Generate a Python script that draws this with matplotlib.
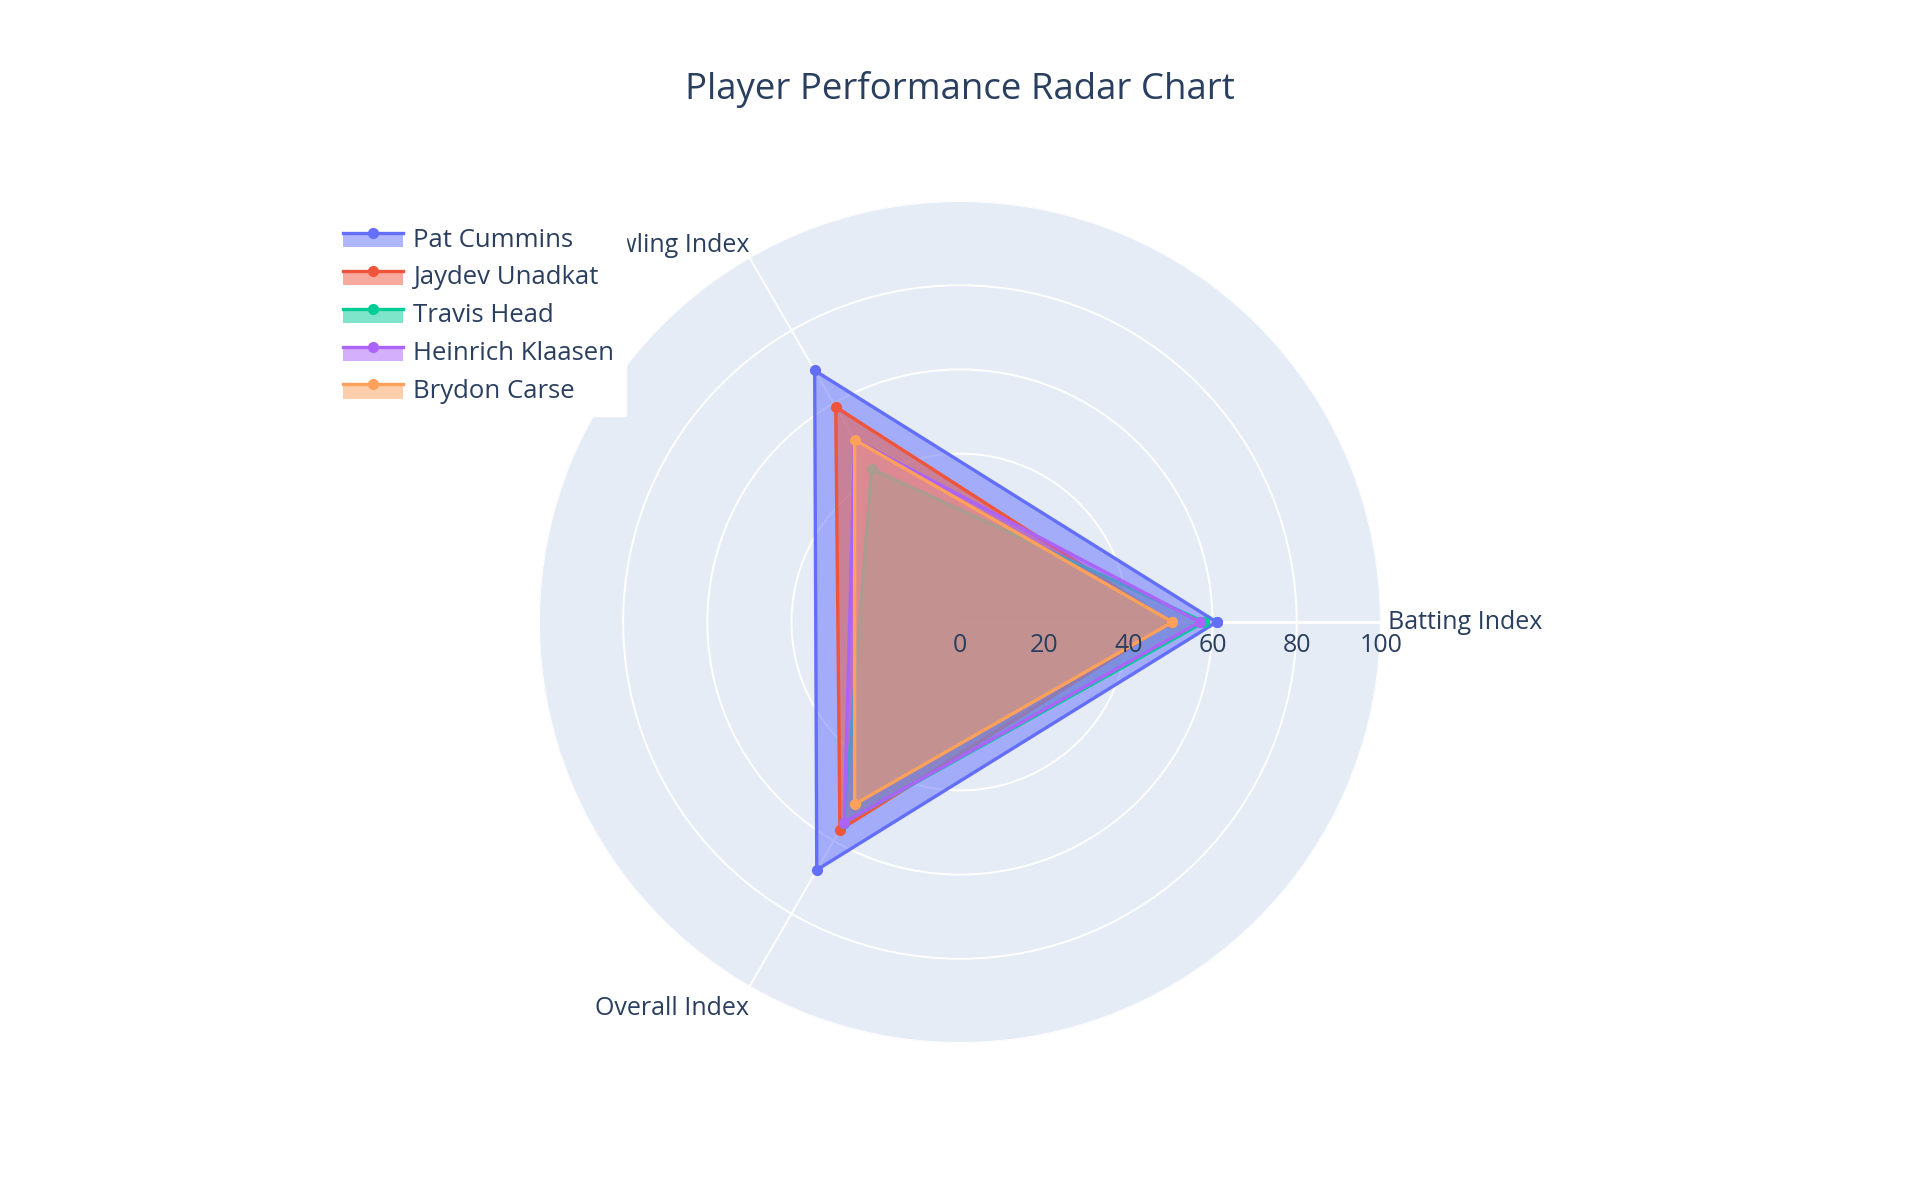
import matplotlib
matplotlib.use("Agg")
import matplotlib.pyplot as plt
import matplotlib.transforms as mtransforms
from matplotlib.legend_handler import HandlerBase
from matplotlib.lines import Line2D
from matplotlib.patches import Rectangle
import numpy as np

plt.rcParams['font.family'] = ['Open Sans', 'DejaVu Sans']

# Data
categories = ['Batting Index', 'Bowling Index', 'Overall Index']
players = ['Pat Cummins', 'Jaydev Unadkat', 'Travis Head', 'Heinrich Klaasen', 'Brydon Carse']
pat_cummins = [61, 69, 68]
jaydev_unadkat = [50, 59, 57]
travis_head = [58, 42, 55]
heinrich_klaasen = [57, 50, 55]
brydon_carse = [50.5, 50, 50]
radial_ticks = [0, 20, 40, 60, 80, 100]

series = [pat_cummins, jaydev_unadkat, travis_head, heinrich_klaasen, brydon_carse]
colors = ['#636EFA', '#EF553B', '#00CC96', '#AB63FA', '#FFA15A']
TEXT = '#2a3f5f'
BG = '#E5ECF6'


class FillLineHandler(HandlerBase):
    # plotly style legend swatch: line with a marker, fill box underneath
    def create_artists(self, legend, orig_handle, xdescent, ydescent,
                       width, height, fontsize, trans):
        color = orig_handle.get_color()
        ymid = height * 0.75 - ydescent
        rect = Rectangle((-xdescent, ymid - height * 0.8), width, height * 0.8,
                         facecolor=color, alpha=0.5, edgecolor='none', transform=trans)
        line = Line2D([-xdescent, width - xdescent], [ymid, ymid],
                      color=color, lw=2.4, transform=trans)
        dot = Line2D([width / 2 - xdescent], [ymid], marker='o', markersize=7,
                     color=color, transform=trans)
        return [rect, line, dot]


def main():
    fig = plt.figure(figsize=(19.2, 12), dpi=100)
    fig.patch.set_facecolor('white')

    ax = fig.add_axes([0.2807, 0.1308, 0.4385, 0.7017], projection='polar')
    ax.set_facecolor(BG)

    angles = np.linspace(0, 2 * np.pi, len(categories), endpoint=False)
    closed = np.concatenate([angles, angles[:1]])

    handles = []
    for i, (name, vals, col) in enumerate(zip(players, series, colors)):
        v = np.concatenate([vals, vals[:1]])
        ax.fill(closed, v, color=col, alpha=0.5, lw=0, zorder=3 + i * 3)
        h, = ax.plot(closed, v, color=col, lw=2.4, marker='o', markersize=7,
                     zorder=4 + i * 3, label=name)
        handles.append(h)

    # Axes styling
    ax.set_ylim(0, 100)
    ax.set_yticks(radial_ticks)
    ax.set_yticklabels([])
    ax.set_xticks(angles)
    ax.set_xticklabels([])
    ax.grid(True, color='white', lw=1.4)
    ax.spines['polar'].set_visible(False)
    ax.tick_params(length=0)
    ax.axvline(0, color='white', lw=2.2, zorder=2)

    # radial tick labels below the axis line
    tick_tr = mtransforms.offset_copy(ax.transData, fig=fig, x=0, y=-23, units='dots')
    for r in radial_ticks:
        ax.text(0, r, str(r), transform=tick_tr, ha='center', va='center',
                fontsize=18, color=TEXT, zorder=20)

    # category labels
    offsets = [(7, 0, 'left'), (0, 12, 'right'), (0, -22, 'right')]
    for ang, cat, (dx, dy, ha) in zip(angles, categories, offsets):
        tr = mtransforms.offset_copy(ax.transData, fig=fig, x=dx, y=dy, units='dots')
        ax.text(ang, 100, cat, transform=tr, ha=ha, va='center',
                fontsize=18, color=TEXT, clip_on=False)

    fig.text(0.5, 1 - 89 / 1200, 'Player Performance Radar Chart',
             ha='center', va='center', fontsize=26.4, color=TEXT)

    leg = fig.legend(handles=handles, loc='upper left',
                     bbox_to_anchor=(0.1725, 0.8200), borderaxespad=0,
                     fontsize=18.5, frameon=True, fancybox=False,
                     handlelength=2.35, handletextpad=0.4, labelspacing=0.5,
                     borderpad=0.45,
                     handler_map={Line2D: FillLineHandler()})
    leg.get_frame().set_facecolor('white')
    leg.get_frame().set_edgecolor('white')
    leg.get_frame().set_alpha(1)
    for t in leg.get_texts():
        t.set_color(TEXT)

    fig.savefig('out.png', dpi=100)


if __name__ == "__main__":
    main()
